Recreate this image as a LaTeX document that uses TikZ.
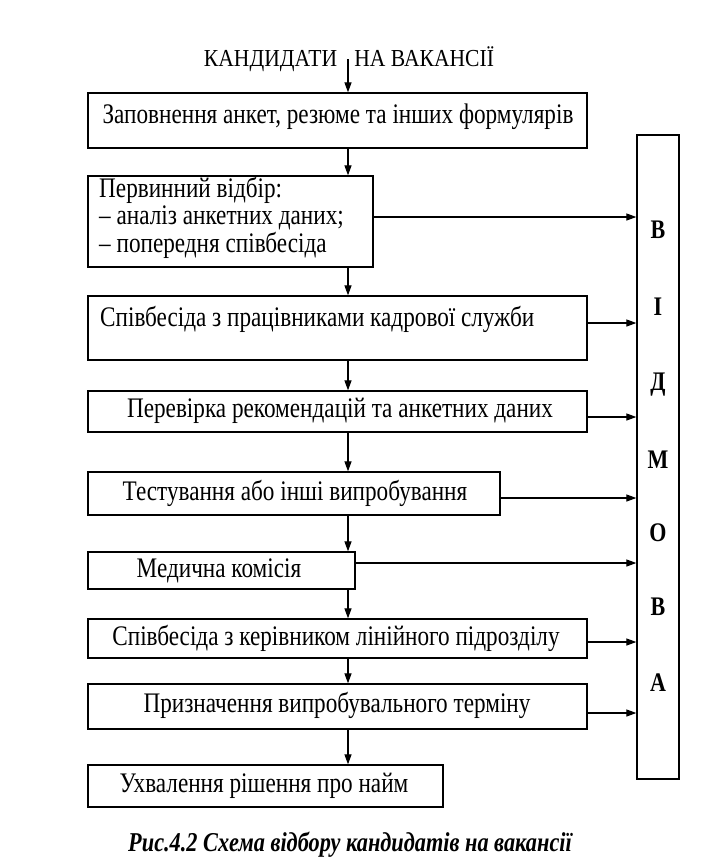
\documentclass[tikz,border=0pt]{standalone}
\usepackage{fontspec}
\setmainfont{Liberation Serif}
\usepackage{graphicx}
\usetikzlibrary{arrows.meta,fit}
\newcommand{\vt}[1]{\scalebox{1}[1.22]{#1}}
\newcommand{\vtt}[1]{\scalebox{1}[1.13]{#1}}
\begin{document}
\begin{tikzpicture}[x=1pt,y=-1pt,
  box/.style={draw, line width=1.3pt, inner sep=0pt},
  txt/.style={inner sep=0pt, font=\fontsize{23.2}{22.5}\selectfont},
  ttl/.style={inner sep=0pt, font=\fontsize{21.6}{24}\selectfont},
  lett/.style={inner sep=0pt, font=\bfseries\fontsize{22}{24}\selectfont},
  capt/.style={inner sep=0pt, font=\bfseries\itshape\fontsize{22.3}{24}\selectfont},
  arr/.style={-{Triangle[length=10pt,width=7pt]}, line width=1.2pt}]
\useasboundingbox (0,0) rectangle (702,868);
\fill[white] (0,0) rectangle (702,868);
\coordinate (ax) at (348,0);
% title
\node[ttl] (title) at (349,59) {\vtt{КАНДИДАТИ\hspace{0.8em}НА ВАКАНСІЇ}};
% boxes
\node[box, fit={(88,93) (587,148)}] (b1) {};
\node[box, fit={(88,176) (373,267)}] (b2) {};
\node[box, fit={(88,296) (587,360)}] (b3) {};
\node[box, fit={(88,391) (587,432)}] (b4) {};
\node[box, fit={(88,472) (500,515)}] (b5) {};
\node[box, fit={(88,552) (355,589)}] (b6) {};
\node[box, fit={(88,619) (587,658)}] (b7) {};
\node[box, fit={(88,684) (587,729)}] (b8) {};
\node[box, fit={(88,765) (443,807)}] (b9) {};
\node[box, fit={(637,135) (679,779)}] (vid) {};
% texts
\node[txt] (t1) at (338,117) {\vt{Заповнення анкет, резюме та інших формулярів}};
\node[txt, anchor=west] (t2) at (99,219) {\vt{\begin{tabular}{@{}l@{}}Первинний відбір:\\ – аналіз анкетних даних;\\ – попередня співбесіда\end{tabular}}};
\node[txt, anchor=west] (t3) at (100,319) {\vt{Співбесіда з працівниками кадрової служби}};
\node[txt] (t4) at (340,411) {\vt{Перевірка рекомендацій та анкетних даних}};
\node[txt] (t5) at (295,493) {\vt{Тестування або інші випробування}};
\node[txt] (t6) at (219,571) {\vt{Медична комісія}};
\node[txt] (t7) at (336,638) {\vt{Співбесіда з керівником лінійного підрозділу}};
\node[txt] (t8) at (337,705) {\vt{Призначення випробувального терміну}};
\node[txt] (t9) at (264,786) {\vt{Ухвалення рішення про найм}};
% letters
\node[lett] (l1) at (658,230) {\vt{В}};
\node[lett] (l2) at (658,307) {\vt{І}};
\node[lett] (l3) at (658,385) {\vt{Д}};
\node[lett] (l4) at (658,460) {\vt{М}};
\node[lett] (l5) at (658,533) {\vt{О}};
\node[lett] (l6) at (658,607) {\vt{В}};
\node[lett] (l7) at (658,683) {\vt{А}};
% caption
\node[capt] (cap) at (350,845) {\vt{Рис.4.2 Схема відбору кандидатів на вакансії}};
% vertical arrows
\draw[arr] (title.center -| ax) -- (b1.north -| ax);
\draw[arr] (b1.south -| ax) -- (b2.north -| ax);
\draw[arr] (b2.south -| ax) -- (b3.north -| ax);
\draw[arr] (b3.south -| ax) -- (b4.north -| ax);
\draw[arr] (b4.south -| ax) -- (b5.north -| ax);
\draw[arr] (b5.south -| ax) -- (b6.north -| ax);
\draw[arr] (b6.south -| ax) -- (b7.north -| ax);
\draw[arr] (b7.south -| ax) -- (b8.north -| ax);
\draw[arr] (b8.south -| ax) -- (b9.north -| ax);
% horizontal arrows
\coordinate (y2) at (0,217);
\coordinate (y3) at (0,323);
\coordinate (y4) at (0,417);
\coordinate (y5) at (0,498);
\coordinate (y6) at (0,563);
\coordinate (y7) at (0,642);
\coordinate (y8) at (0,713);
\draw[arr] (b2.east |- y2) -- (vid.west |- y2);
\draw[arr] (b3.east |- y3) -- (vid.west |- y3);
\draw[arr] (b4.east |- y4) -- (vid.west |- y4);
\draw[arr] (b5.east |- y5) -- (vid.west |- y5);
\draw[arr] (b6.east |- y6) -- (vid.west |- y6);
\draw[arr] (b7.east |- y7) -- (vid.west |- y7);
\draw[arr] (b8.east |- y8) -- (vid.west |- y8);
\end{tikzpicture}
\end{document}
